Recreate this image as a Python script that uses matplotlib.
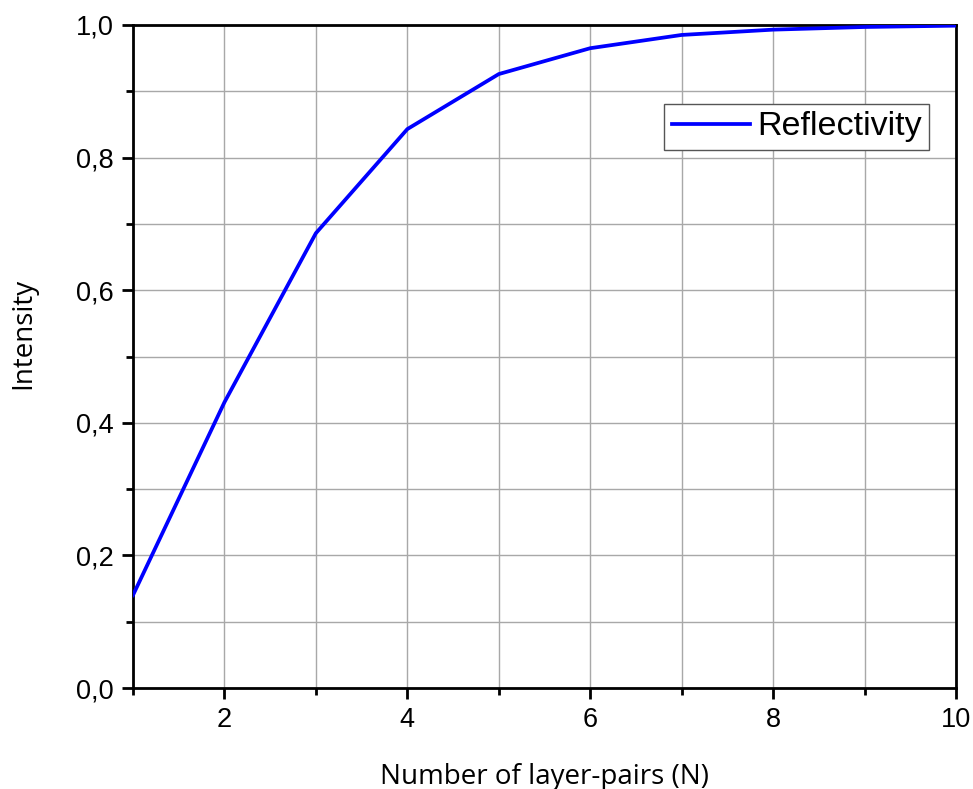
import matplotlib
matplotlib.use("Agg")
import matplotlib.pyplot as plt
from matplotlib.ticker import MultipleLocator, FuncFormatter

# Reflectivity of a multilayer mirror vs. number of layer pairs
layer_pairs = [1, 2, 3, 4, 5, 6, 7, 8, 9, 10]
reflectivity = [0.140, 0.431, 0.686, 0.843, 0.926, 0.965, 0.985, 0.993, 0.997, 0.999]

fig = plt.figure(figsize=(9.73, 7.89), dpi=100)
ax = fig.add_axes([133 / 973, 1 - 688 / 789, (956 - 133) / 973, (688 - 25) / 789])

ax.plot(layer_pairs, reflectivity, color="#0000ff", lw=2.7, label="Reflectivity", zorder=3)

ax.set_xlim(1, 10)
ax.set_ylim(0, 1)
ax.xaxis.set_major_locator(MultipleLocator(2))
ax.xaxis.set_minor_locator(MultipleLocator(1))
ax.yaxis.set_major_locator(MultipleLocator(0.2))
ax.yaxis.set_minor_locator(MultipleLocator(0.1))
ax.yaxis.set_major_formatter(FuncFormatter(lambda v, p: f"{v:.1f}".replace(".", ",")))
ax.xaxis.set_major_formatter(FuncFormatter(lambda v, p: "" if v < 2 else f"{int(round(v))}"))

ax.grid(True, which="both", color="#a8a8a8", lw=1.0, zorder=0)

for s in ax.spines.values():
    s.set_linewidth(2.0)
    s.set_color("black")

ax.tick_params(which="major", direction="out", length=8, width=2, labelsize=19.5, pad=6)
ax.tick_params(which="minor", direction="out", length=5, width=2)
for lab in ax.get_xticklabels() + ax.get_yticklabels():
    lab.set_family("Liberation Sans")

ax.set_xlabel("Number of layer-pairs (N)", family="Open Sans", fontsize=20, labelpad=21)
ax.set_ylabel("Intensity", family="Open Sans", fontsize=20, labelpad=20)
ax.yaxis.set_label_coords(-0.1165, (688 - 333) / 663)

leg = ax.legend(loc="upper right", bbox_to_anchor=((929 - 133) / 823, (688 - 104) / 663),
                prop={"family": "Liberation Sans", "size": 24.5}, frameon=True, fancybox=False,
                handlelength=2.3, handletextpad=0.2, borderpad=0.22, borderaxespad=0)
leg.get_frame().set_edgecolor("#555555")
leg.get_frame().set_linewidth(1.0)
leg.get_frame().set_alpha(1)

fig.savefig("out.png", dpi=100)
